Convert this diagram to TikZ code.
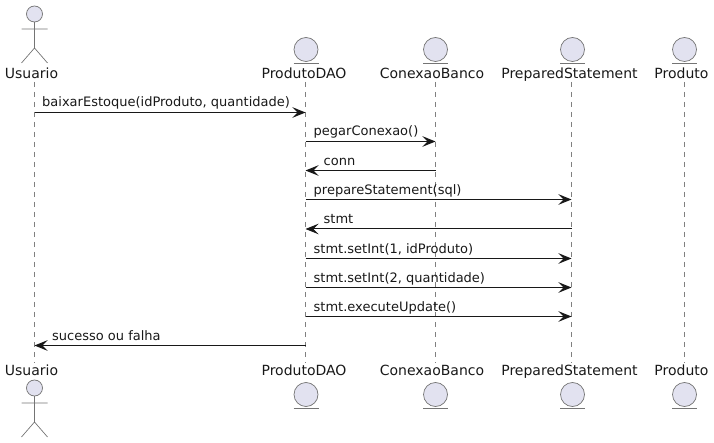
\documentclass[tikz,border=0pt]{standalone}
\usepackage{fontspec}
\setmainfont{DejaVu Sans}
\usetikzlibrary{arrows.meta}
\definecolor{partfill}{HTML}{E2E2F0}
\definecolor{ink}{HTML}{181818}
\tikzset{
  part/.style={fill=partfill,draw=ink!60,line width=0.7pt},
  stick/.style={draw=ink!60,line width=0.7pt},
  life/.style={draw=ink!55,line width=0.6pt,dash pattern=on 5pt off 5pt},
  msg/.style={draw=ink,line width=1pt,-{Stealth[length=13pt,width=10.5pt,inset=5pt]}},
  plabel/.style={inner sep=0pt,text=ink,font=\fontsize{14}{16}\selectfont,anchor=base},
  mlabel/.style={inner sep=0pt,text=ink,font=\fontsize{13}{15}\selectfont,anchor=base west}
}
\begin{document}
\begin{tikzpicture}[x=1pt,y=-1pt]
\useasboundingbox (0,0) rectangle (714,443);
% top labels
\node[plabel] (ut) at (31.5,78.5) {Usuario};
\node[plabel] (dt) at (304,78.5) {ProdutoDAO};
\node[plabel] (ct) at (432,78.5) {ConexaoBanco};
\node[plabel] (pt) at (569.5,78.5) {PreparedStatement};
\node[plabel] (ot) at (681.5,78.5) {Produto};
% bottom labels
\node[plabel] (ub) at (31.5,375) {Usuario};
\node[plabel] (db) at (304,375) {ProdutoDAO};
\node[plabel] (cb) at (432,375) {ConexaoBanco};
\node[plabel] (pb) at (569.5,375) {PreparedStatement};
\node[plabel] (ob) at (681.5,375) {Produto};
% lifeline ends
\foreach \n/\x in {u/34.5,d/305.5,c/435.5,p/571.5,o/684.5}{
  \coordinate (\n A) at (\x,82);
  \coordinate (\n B) at (\x,363);
  \draw[life] (\n A) -- (\n B);
}
% actors
\foreach \y in {14,388}{
  \draw[part] (34.5,\y) circle (8);
  \draw[stick] (34.5,\y+8) -- (34.5,\y+34) (21.5,\y+15) -- (47.5,\y+15)
    (21.5,\y+49) -- (34.5,\y+34) -- (47.5,\y+49);
}
% entities
\foreach \x in {306,435.5,572.5,684.5}{
  \foreach \y in {49.5,394.5}{
    \draw[part] (\x,\y) circle (12);
    \draw[stick] (\x-12.5,\y+13.5) -- (\x+12.5,\y+13.5);
  }
}
% rows
\foreach \i/\y in {1/112.5,2/141.5,3/170.5,4/199.5,5/229,6/258.5,7/287.5,8/316.5,9/345.5}{
  \coordinate (r\i) at (0,\y);
}
% messages
\draw[msg] (uA |- r1) -- (dA |- r1);
\draw[msg] (dA |- r2) -- (cA |- r2);
\draw[msg] (cA |- r3) -- (dA |- r3);
\draw[msg] (dA |- r4) -- (pA |- r4);
\draw[msg] (pA |- r5) -- (dA |- r5);
\draw[msg] (dA |- r6) -- (pA |- r6);
\draw[msg] (dA |- r7) -- (pA |- r7);
\draw[msg] (dA |- r8) -- (pA |- r8);
\draw[msg] (dA |- r9) -- (uA |- r9);
% message labels
\node[mlabel] (m1) at (42,107) {baixarEstoque(idProduto, quantidade)};
\node[mlabel] (m2) at (313.5,136) {pegarConexao()};
\node[mlabel] (m3) at (323.5,165.5) {conn};
\node[mlabel] (m4) at (313.5,194.5) {prepareStatement(sql)};
\node[mlabel] (m5) at (323.5,224) {stmt};
\node[mlabel] (m6) at (313.5,253.5) {stmt.setInt(1, idProduto)};
\node[mlabel] (m7) at (313.5,282.5) {stmt.setInt(2, quantidade)};
\node[mlabel] (m8) at (313.5,311.5) {stmt.executeUpdate()};
\node[mlabel] (m9) at (52,340.5) {sucesso ou falha};
\end{tikzpicture}
\end{document}
